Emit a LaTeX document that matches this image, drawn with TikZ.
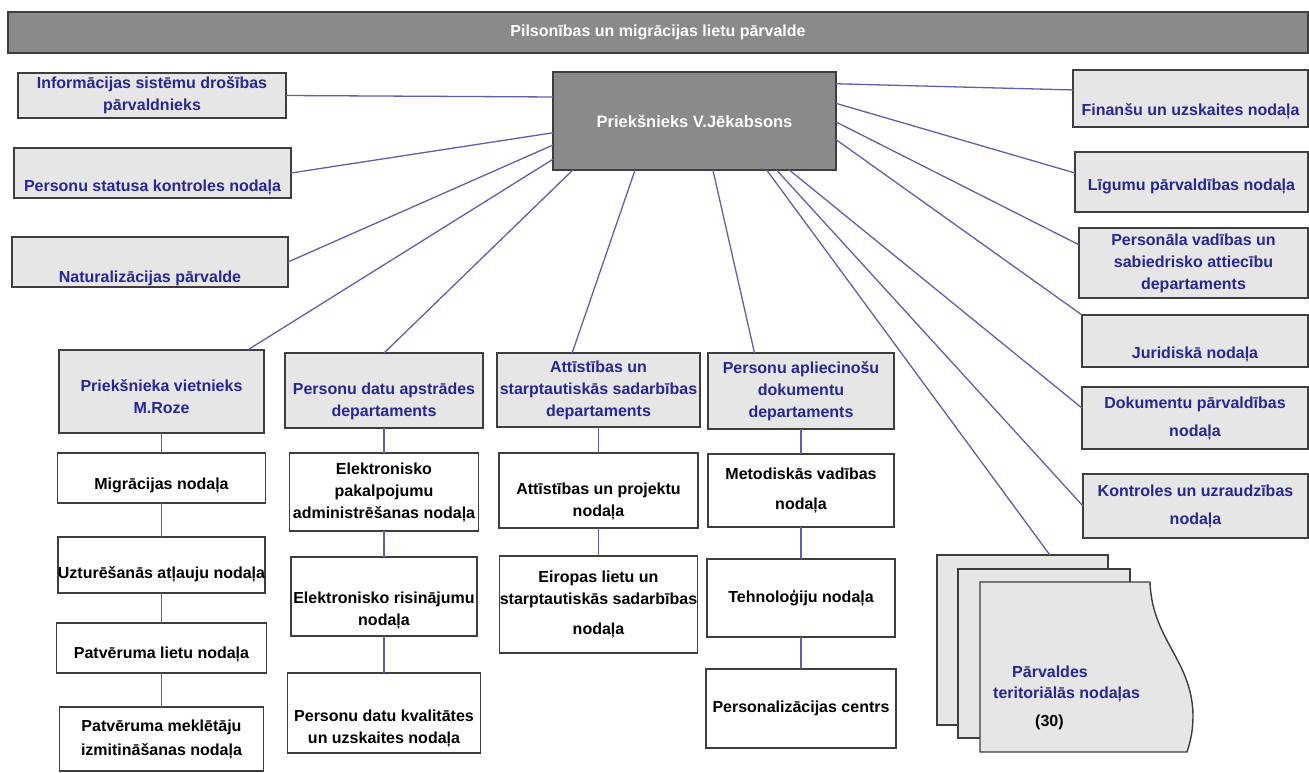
\documentclass[tikz,border=0pt]{standalone}
\usepackage{fontspec}
\setmainfont{Liberation Sans}
\usepackage{xcolor}
\usetikzlibrary{positioning,calc}

\definecolor{headgray}{RGB}{138,138,138}
\definecolor{panelgray}{RGB}{230,230,230}
\definecolor{framegray}{RGB}{62,62,62}
\definecolor{deptblue}{RGB}{38,38,150}
\definecolor{linkblue}{RGB}{95,95,172}
% invisible strut that pushes a box text downwards
\newcommand{\padtop}[1]{\rule{0pt}{#1}}

\begin{document}
\begin{tikzpicture}[
  x=1pt, y=-1pt,
  base/.style={draw=framegray, line width=1.4pt, inner sep=0pt, outer sep=0pt,
               anchor=north west, align=center,
               font=\bfseries\fontsize{16}{22}\selectfont},
  dark/.style={base, fill=headgray, text=white},
  dept/.style={base, fill=panelgray, text=deptblue},
  unit/.style={base, fill=white, text=black},
  wd/.style={minimum width=#1},
  ht/.style={minimum height=#1},
  sunk/.style 2 args={text height=#1, text depth=#2},
  link/.style={draw=linkblue, line width=1.3pt}
]
  \useasboundingbox (0,0) rectangle (1309,773);

  % Title bar and head
  \node[dark, wd=1300pt, ht=41pt] (title) at (8,12)
    {Pilsonības un migrācijas lietu pārvalde};
  \node[dark, wd=283pt, ht=98pt, font=\bfseries\fontsize{16.5}{22}\selectfont] (boss) at (553,72)
    {Priekšnieks V.Jēkabsons};

  % Left side units
  \node[dept, wd=268pt, ht=45pt] (info) at (18,73)
    {Informācijas sistēmu drošības\\pārvaldnieks};
  \node[dept, wd=277pt, sunk={43pt}{7pt}] (status) at (14,148)
    {Personu statusa kontroles nodaļa};
  \node[dept, wd=276pt, sunk={45pt}{5pt}] (natur) at (12,237)
    {Naturalizācijas pārvalde};

  % Right side units
  \node[dept, wd=235pt, sunk={46pt}{11pt}] (fin) at (1073,70)
    {Finanšu un uzskaites nodaļa};
  \node[dept, wd=233pt, sunk={38pt}{22pt}] (lig) at (1075,152)
    {Līgumu pārvaldības nodaļa};
  \node[dept, wd=229pt, ht=70pt] (pers) at (1079,228)
    {Personāla vadības un\\sabiedrisko attiecību\\departaments};
  \node[dept, wd=226pt, sunk={43pt}{9pt}] (jur) at (1082,315)
    {Juridiskā nodaļa};
  \node[dept, wd=226pt, ht=62pt] (dok) at (1082,387)
    {Dokumentu pārvaldības\\[6pt]nodaļa};
  \node[dept, wd=225pt, ht=64pt] (kontr) at (1083,474)
    {Kontroles un uzraudzības\\[6pt]nodaļa};

  % Column 1: deputy
  \node[dept, wd=205pt, ht=83pt] (viet) at (59,350)
    {\padtop{22pt}Priekšnieka vietnieks\\M.Roze};
  \node[unit, wd=208pt, ht=50pt, below=20pt of viet] (migr) {\padtop{26pt}Migrācijas nodaļa};
  \node[unit, wd=206pt, ht=56pt, below=34pt of migr] (uztur) {\padtop{30pt}Uzturēšanās atļauju nodaļa};
  \node[unit, wd=210pt, ht=50pt, below=30pt of uztur] (patv) {\padtop{24pt}Patvēruma lietu nodaļa};
  \node[unit, wd=204pt, ht=64pt, below=34pt of patv] (mekl)
    {Patvēruma meklētāju\\[2pt]izmitināšanas nodaļa};

  % Column 2: personal data
  \node[dept, wd=198pt, ht=75pt] (datu) at (285,353)
    {\padtop{34pt}Personu datu apstrādes\\departaments};
  \node[unit, wd=189pt, ht=78pt, below=25pt of datu] (elpak)
    {Elektronisko\\pakalpojumu\\administrēšanas nodaļa};
  \node[unit, wd=186pt, ht=79pt, below=26pt of elpak] (elris)
    {\padtop{40pt}Elektronisko risinājumu\\nodaļa};
  \node[unit, wd=193pt, ht=80pt, below=37pt of elris] (kval)
    {\padtop{42pt}Personu datu kvalitātes\\un uzskaites nodaļa};

  % Column 3: development
  \node[dept, wd=203pt, ht=74pt] (att) at (497,353)
    {Attīstības un\\starptautiskās sadarbības\\departaments};
  \node[unit, wd=199pt, ht=75pt, below=26pt of att] (attproj)
    {\padtop{34pt}Attīstības un projektu\\nodaļa};
  \node[unit, wd=198pt, ht=97pt, below=28pt of attproj] (eiropas)
    {Eiropas lietu un\\starptautiskās sadarbības\\[8pt]nodaļa};

  % Column 4: documents
  \node[dept, wd=186pt, ht=76pt] (apl) at (708,353)
    {Personu apliecinošu\\dokumentu\\departaments};
  \node[unit, wd=186pt, ht=73pt, below=25pt of apl] (metod)
    {Metodiskās vadības\\[8pt]nodaļa};
  \node[unit, wd=188pt, ht=78pt, below=32pt of metod] (tehn) {Tehnoloģiju nodaļa};
  \node[unit, wd=190pt, ht=79pt, below=32pt of tehn] (perscentr) {Personalizācijas centrs};

  % Territorial units (stack of pages)
  \node[base, fill=panelgray, wd=171pt, ht=170pt] (stackback) at (937,555) {};
  \node[base, fill=panelgray, wd=172pt, ht=169pt] (stackmid) at (958,569) {};
  \filldraw[draw=framegray, fill=panelgray, line width=1.4pt]
    (980,582) -- (1150,582) .. controls (1152,640) and (1192,660) .. (1193,715)
    .. controls (1193,735) and (1189,745) .. (1187,752) -- (980,752) -- cycle;
  \node[anchor=north west, inner sep=0pt, align=left, text=deptblue,
        font=\bfseries\fontsize{16}{21}\selectfont] (terr) at (993,666)
    {\hspace*{19pt}Pārvaldes\\teritoriālās nodaļas\\[7pt]\hspace*{42pt}\textcolor{black}{(30)}};

  % Links from the head
  \draw[link] (info.east) -- ($(boss.north west)!0.255!(boss.south west)$);
  \draw[link] (status.east) -- ($(boss.north west)!0.62!(boss.south west)$);
  \draw[link] (natur.east) -- ($(boss.north west)!0.745!(boss.south west)$);
  \draw[link] ($(viet.north west)!0.92!(viet.north east)$) -- ($(boss.north west)!0.89!(boss.south west)$);
  \draw[link] (datu.north) -- ($(boss.south west)!0.07!(boss.south east)$);
  \draw[link] ($(att.north west)!0.37!(att.north east)$) -- ($(boss.south west)!0.29!(boss.south east)$);
  \draw[link] ($(apl.north west)!0.25!(apl.north east)$) -- ($(boss.south west)!0.565!(boss.south east)$);
  \draw[link] ($(stackback.north west)!0.66!(stackback.north east)$) -- ($(boss.south west)!0.755!(boss.south east)$);
  \draw[link] (kontr.west) -- ($(boss.south west)!0.79!(boss.south east)$);
  \draw[link] ($(dok.north west)!0.34!(dok.south west)$) -- ($(boss.south west)!0.835!(boss.south east)$);
  \draw[link] (jur.north west) -- ($(boss.north east)!0.69!(boss.south east)$);
  \draw[link] ($(pers.north west)!0.24!(pers.south west)$) -- ($(boss.north east)!0.51!(boss.south east)$);
  \draw[link] ($(lig.north west)!0.35!(lig.south west)$) -- ($(boss.north east)!0.32!(boss.south east)$);
  \draw[link] ($(fin.north west)!0.35!(fin.south west)$) -- ($(boss.north east)!0.12!(boss.south east)$);

  % Links inside the columns
  \draw[link] (viet.south) -- (migr.north);
  \draw[link] (migr.south) -- (uztur.north);
  \draw[link] (uztur.south) -- (patv.north);
  \draw[link] (patv.south) -- (mekl.north);
  \draw[link] (datu.south) -- (elpak.north);
  \draw[link] (elpak.south) -- (elris.north);
  \draw[link] (elris.south) -- (kval.north);
  \draw[link] (att.south) -- (attproj.north);
  \draw[link] (attproj.south) -- (eiropas.north);
  \draw[link] (apl.south) -- (metod.north);
  \draw[link] (metod.south) -- (tehn.north);
  \draw[link] (tehn.south) -- (perscentr.north);
\end{tikzpicture}
\end{document}
